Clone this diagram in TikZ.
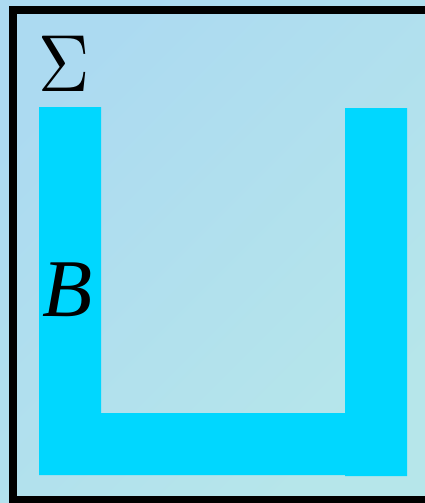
\documentclass[tikz,border=0pt]{standalone}
\usepackage{fontspec}
\setmainfont{Liberation Serif}
\definecolor{bgA}{RGB}{172,218,241}
\definecolor{bgB}{RGB}{182,230,234}
\definecolor{ucyan}{RGB}{0,215,255}
\tikzset{
  lbl/.style={inner sep=0pt, font=\fontsize{82}{82}\selectfont},
  siglbl/.style={inner sep=0pt, xscale=7.1, yscale=8.1},
  bar/.style={fill=ucyan, draw=none}
}
\begin{document}
\begin{tikzpicture}[x=1pt,y=-1pt]
\useasboundingbox (0,0) rectangle (425,503);
\shade[left color=bgA, right color=bgB, shading angle=45] (0,0) rectangle (425,503);
\fill[bar] (39,107) -- (101,107) -- (101,413) -- (345,413) -- (345,108) -- (407,108) -- (407,476) -- (345,476) -- (345,475) -- (39,475) -- cycle;
\draw[line width=8pt] (13,10) rectangle (429,500);
\node[siglbl] (sigma) at (64.5,64) {$\Sigma$};
\node[lbl] (b) at (68,290) {\itshape B};
\end{tikzpicture}
\end{document}
